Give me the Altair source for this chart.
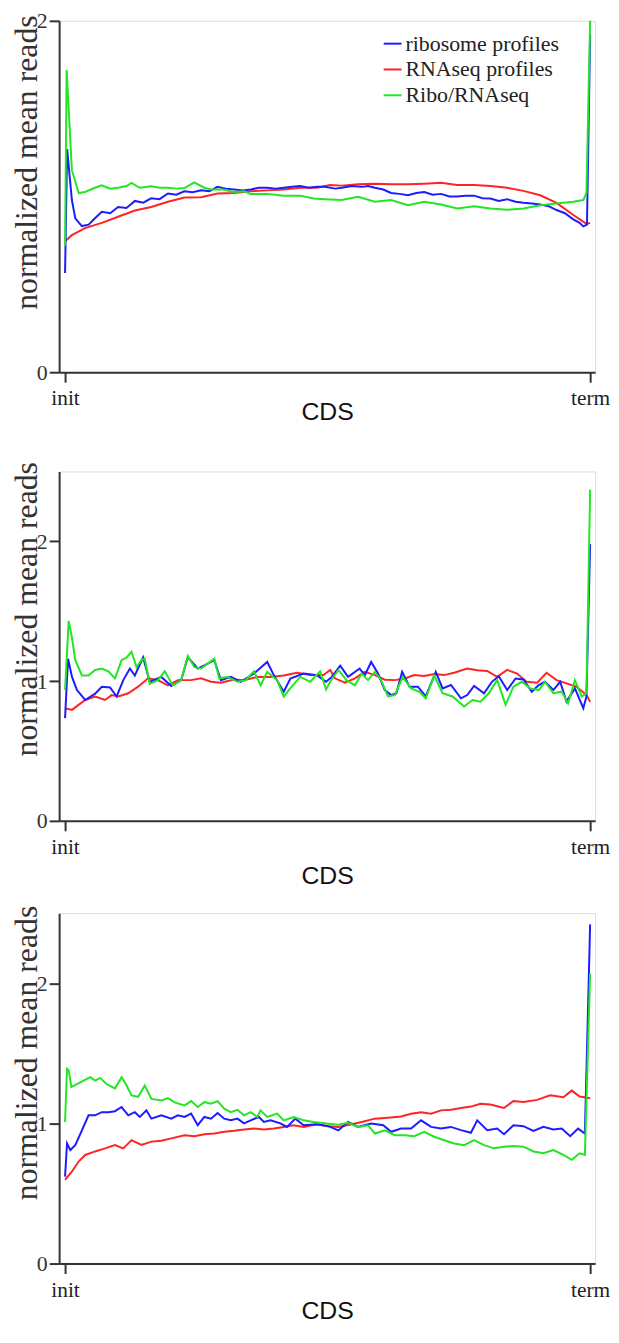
import altair as alt
import pandas as pd

SERIES = ["ribosome profiles", "RNAseq profiles", "Ribo/RNAseq"]
COLORS = ["#1c1cff", "#ff2424", "#22e622"]
X_TICKS = [0, 100]
X_TICK_LABELS = ["init", "term"]
Y_TICKS = [0, 1, 2]

# ---------------- panel 1 ----------------
p1_ribo_x = [0, 0.4, 1.3, 1.95, 3.2, 4.5, 5.7, 7.0, 8.6, 10.1, 11.7, 13.3, 14.9, 16.4, 18.0, 19.6, 21.2, 22.7, 24.3, 25.9,
             27.5, 29.0, 30.6, 32.2, 33.8, 35.4, 36.9, 38.5, 40.1, 41.7, 43.2, 44.8, 46.4, 48.0, 49.5, 51.4, 52.7, 54.6, 56.5, 57.7,
             59.0, 60.6, 62.1, 63.7, 65.3, 66.9, 68.4, 70.0, 71.6, 73.2, 74.7, 76.3, 77.9, 79.5, 81.0, 82.6, 84.2, 85.8, 87.3, 88.9,
             90.5, 92.1, 93.6, 95.2, 96.8, 98.0, 98.7, 99.4, 100]
p1_ribo_y = [0.565, 1.27, 0.98, 0.876, 0.832, 0.84, 0.876, 0.913, 0.905, 0.94, 0.935, 0.975, 0.965, 0.99, 0.985, 1.017, 1.01, 1.03, 1.025, 1.035,
             1.03, 1.055, 1.045, 1.04, 1.035, 1.04, 1.05, 1.05, 1.045, 1.05, 1.055, 1.06, 1.05, 1.055, 1.055, 1.045, 1.05, 1.06, 1.055, 1.06,
             1.05, 1.04, 1.02, 1.015, 1.007, 1.02, 1.025, 1.01, 1.015, 1.0, 1.0, 1.005, 1.005, 0.99, 0.989, 0.975, 0.985, 0.97, 0.964, 0.96,
             0.955, 0.945, 0.923, 0.905, 0.87, 0.85, 0.83, 0.84, 1.92]
p1_rna_x = [0, 1.3, 3.8, 7.0, 10.1, 13.3, 16.4, 19.6, 22.75, 25.9, 29.05, 32.2, 35.35, 38.5, 41.65, 44.8, 47.95, 50.5, 52.7, 55.8,
            59.0, 62.1, 65.3, 68.4, 71.6, 74.7, 77.9, 81.0, 84.2, 87.3, 90.5, 93.6, 96.8, 99.3, 100]
p1_rna_y = [0.745, 0.78, 0.82, 0.85, 0.885, 0.92, 0.94, 0.97, 0.994, 0.996, 1.017, 1.02, 1.03, 1.035, 1.04, 1.05, 1.05, 1.065, 1.062, 1.07,
            1.073, 1.07, 1.07, 1.073, 1.078, 1.065, 1.066, 1.06, 1.05, 1.032, 1.007, 0.964, 0.895, 0.844, 0.85]
p1_ratio_x = [0, 0.3, 1.3, 2.6, 3.8, 5.7, 7.0, 8.6, 10.1, 11.7, 12.66, 14.2, 16.4, 18.0, 19.6, 21.2, 22.75, 24.6, 26.5, 27.8,
              30.0, 32.2, 34.1, 35.35, 38.5, 41.65, 44.8, 47.3, 49.5, 52.7, 55.8, 59.0, 62.1, 65.3, 68.4, 71.6, 74.7, 77.9, 81.0, 84.2,
              87.3, 90.5, 93.6, 96.8, 98.7, 99.3, 100]
p1_ratio_y = [0.72, 1.72, 1.15, 1.02, 1.026, 1.05, 1.064, 1.045, 1.05, 1.06, 1.077, 1.05, 1.058, 1.05, 1.05, 1.045, 1.048, 1.08, 1.05, 1.04,
              1.04, 1.026, 1.03, 1.015, 1.015, 1.005, 1.005, 0.989, 0.985, 0.98, 0.998, 0.97, 0.98, 0.951, 0.97, 0.955, 0.932, 0.945, 0.932, 0.925,
              0.932, 0.95, 0.96, 0.97, 0.98, 1.02, 2.0]

# ---------------- panel 2 ----------------
p2_ribo_x = [0, 0.57, 1.32, 2.27, 3.84, 5.73, 6.99, 8.57, 9.83, 11.09, 12.35, 13.29, 14.87, 16.13, 18.34, 20.23, 22.12, 23.38, 25.27, 26.53,
             28.42, 29.68, 31.57, 33.46, 35.98, 38.5, 39.76, 41.65, 42.91, 45.43, 47.95, 49.7, 50.8, 52.4, 53.9, 56.1, 57.1, 58.3, 59.6, 60.9,
             62.1, 63.1, 64.2, 65.6, 67.2, 68.7, 70.6, 71.9, 73.5, 75.4, 76.6, 77.9, 79.8, 81.3, 82.6, 84.2, 85.8, 87.3, 88.9, 90.2,
             91.4, 93.0, 94.3, 95.5, 97.1, 98.7, 99.3, 100]
p2_ribo_y = [0.735, 1.16, 1.03, 0.936, 0.865, 0.91, 0.96, 0.955, 0.89, 1.007, 1.09, 1.04, 1.17, 0.995, 1.03, 0.965, 1.007, 1.17, 1.09, 1.113,
             1.15, 1.007, 1.03, 0.995, 1.054, 1.137, 1.043, 0.924, 1.019, 1.054, 1.043, 0.995, 1.03, 1.11, 1.03, 1.09, 1.043, 1.137, 1.054, 0.936,
             0.90, 0.913, 1.066, 0.96, 0.96, 0.89, 1.066, 0.948, 0.972, 0.877, 0.9, 0.965, 0.913, 0.995, 1.035, 0.936, 1.019, 1.012, 0.924, 0.972,
             0.995, 0.936, 0.995, 0.853, 0.948, 0.806, 0.89, 1.98]
p2_rna_x = [0, 1.32, 2.58, 3.84, 5.73, 7.62, 8.88, 10.14, 12.04, 13.92, 15.81, 17.7, 19.6, 21.49, 24.01, 25.9, 27.79, 29.68, 32.2, 34.09,
            36.61, 39.13, 41.65, 44.17, 46.69, 49.21, 50.5, 51.4, 53.3, 55.2, 57.1, 59.0, 60.9, 62.8, 64.7, 66.5, 68.4, 70.3, 72.2, 74.1,
            76.6, 78.5, 80.4, 82.3, 84.2, 86.1, 87.9, 89.9, 91.7, 93.6, 95.5, 97.4, 99.3, 100]
p2_rna_y = [0.806, 0.794, 0.83, 0.865, 0.89, 0.865, 0.90, 0.89, 0.913, 0.96, 1.02, 1.007, 0.97, 1.007, 1.007, 1.02, 0.995, 0.988, 1.012, 1.007,
            1.03, 1.03, 1.04, 1.06, 1.043, 1.043, 1.08, 1.02, 0.989, 1.019, 1.066, 1.043, 1.01, 1.007, 1.019, 1.043, 1.036, 1.05, 1.043, 1.06,
            1.09, 1.078, 1.073, 1.031, 1.08, 1.054, 0.995, 0.988, 1.06, 1.007, 0.984, 0.96, 0.90, 0.853]
p2_ratio_x = [0, 0.69, 1.32, 1.95, 3.21, 4.47, 5.73, 6.99, 8.25, 9.51, 10.77, 11.72, 12.66, 13.61, 14.55, 15.18, 16.13, 17.7, 18.97, 20.54,
              22.12, 23.38, 24.64, 25.9, 27.16, 28.42, 29.36, 30.94, 32.83, 34.4, 35.98, 37.24, 38.5, 40.39, 41.65, 42.91, 44.8, 46.69, 48.58, 49.7,
              50.5, 52.05, 53.6, 55.2, 56.5, 57.7, 59.0, 60.2, 61.5, 62.8, 64.3, 65.9, 67.5, 68.7, 70.3, 71.9, 73.8, 76.0, 77.6, 79.1,
              80.7, 82.3, 83.9, 85.4, 87.0, 88.6, 90.2, 91.4, 93.0, 94.6, 95.8, 97.1, 98.4, 99.3, 100]
p2_ratio_y = [0.936, 1.43, 1.31, 1.15, 1.04, 1.04, 1.08, 1.09, 1.07, 1.02, 1.15, 1.17, 1.21, 1.10, 1.15, 1.16, 0.98, 1.007, 1.07, 0.97,
              1.007, 1.18, 1.10, 1.09, 1.125, 1.16, 1.02, 1.03, 0.995, 1.007, 1.07, 0.97, 1.066, 1.007, 0.89, 0.95, 1.03, 0.995, 1.07, 0.94,
              0.995, 1.08, 1.007, 0.97, 1.054, 1.007, 1.066, 1.007, 0.89, 0.90, 1.03, 0.948, 0.924, 0.877, 1.04, 0.913, 0.89, 0.818, 0.865, 0.853,
              0.913, 1.007, 0.83, 0.96, 0.995, 0.948, 0.936, 0.995, 0.913, 0.924, 0.84, 1.007, 0.89, 0.913, 2.37]

# ---------------- panel 3 ----------------
p3_ribo_x = [0, 0.38, 1.0, 1.95, 3.21, 4.47, 5.73, 6.99, 8.25, 9.51, 10.77, 12.04, 13.29, 14.24, 15.5, 16.44, 18.34, 20.23, 21.49, 22.75,
             24.01, 25.27, 26.53, 27.79, 29.05, 30.31, 31.57, 32.83, 34.09, 35.35, 36.92, 37.87, 39.13, 41.02, 42.28, 43.86, 45.43, 47.95, 50.16, 52.05,
             53.9, 55.8, 58.3, 60.6, 62.1, 64.0, 65.9, 67.8, 69.7, 71.6, 73.5, 75.4, 77.3, 78.5, 80.4, 82.3, 83.6, 85.4, 87.3, 89.2,
             91.1, 93.0, 94.6, 96.2, 97.7, 99.0, 100]
p3_ribo_y = [0.62, 0.857, 0.81, 0.845, 0.95, 1.058, 1.058, 1.08, 1.08, 1.087, 1.117, 1.058, 1.08, 1.046, 1.093, 1.034, 1.058, 1.034, 1.058, 1.046,
             1.07, 0.987, 1.046, 1.034, 1.074, 1.034, 1.022, 1.034, 1.0, 1.022, 1.046, 1.01, 1.022, 1.0, 0.975, 1.034, 0.987, 0.994, 0.98, 0.95,
             1.01, 0.975, 0.999, 0.987, 0.94, 0.963, 0.963, 1.022, 0.975, 0.963, 0.975, 0.952, 0.933, 1.022, 0.952, 0.963, 0.923, 0.987, 0.98, 0.947,
             0.975, 0.956, 0.963, 0.909, 0.963, 0.928, 2.42]
p3_rna_x = [0, 1.32, 2.58, 3.84, 5.73, 7.62, 9.51, 11.09, 12.66, 14.55, 16.44, 18.34, 20.23, 22.75, 24.64, 26.53, 28.42, 30.31, 32.2, 34.09,
            35.98, 37.87, 39.76, 41.65, 43.54, 45.43, 47.95, 50.16, 52.05, 54.6, 56.5, 59.0, 61.5, 64.0, 65.9, 67.8, 69.7, 71.6, 73.5, 75.4,
            77.3, 79.1, 81.0, 83.6, 85.4, 87.3, 89.9, 92.4, 94.9, 96.5, 98.0, 100]
p3_rna_y = [0.598, 0.657, 0.728, 0.775, 0.80, 0.822, 0.846, 0.822, 0.881, 0.846, 0.87, 0.877, 0.893, 0.916, 0.909, 0.923, 0.928, 0.94, 0.947, 0.956,
            0.963, 0.956, 0.963, 0.975, 0.987, 0.975, 0.994, 0.98, 0.975, 0.994, 1.01, 1.034, 1.041, 1.05, 1.069, 1.08, 1.069, 1.093, 1.098, 1.11,
            1.12, 1.14, 1.135, 1.11, 1.16, 1.152, 1.168, 1.2, 1.187, 1.234, 1.192, 1.18]
p3_ratio_x = [0, 0.38, 0.69, 1.2, 2.27, 3.53, 4.79, 5.73, 6.68, 7.94, 9.51, 10.77, 11.72, 12.66, 13.92, 15.18, 16.44, 18.34, 19.6, 20.86,
              22.75, 24.01, 25.27, 26.53, 27.79, 29.05, 30.31, 31.57, 32.83, 34.09, 35.35, 36.61, 37.24, 38.5, 40.39, 41.65, 43.54, 45.43, 47.32, 50.16,
              52.05, 53.9, 55.8, 57.7, 59.0, 60.9, 62.8, 64.7, 66.5, 68.4, 70.3, 72.2, 74.1, 76.0, 77.9, 79.8, 81.7, 83.6, 85.4, 87.3,
              89.2, 91.1, 93.0, 94.9, 96.5, 98.0, 99.0, 100]
p3_ratio_y = [1.01, 1.39, 1.38, 1.26, 1.28, 1.305, 1.33, 1.305, 1.325, 1.28, 1.25, 1.33, 1.27, 1.20, 1.19, 1.27, 1.175, 1.163, 1.18, 1.15,
              1.128, 1.159, 1.117, 1.152, 1.14, 1.159, 1.105, 1.08, 1.097, 1.058, 1.08, 1.046, 1.093, 1.046, 1.07, 1.022, 1.046, 1.022, 1.01, 0.998,
              0.99, 1.004, 0.975, 0.987, 0.928, 0.95, 0.916, 0.916, 0.909, 0.94, 0.905, 0.88, 0.857, 0.845, 0.88, 0.845, 0.822, 0.834, 0.838, 0.834,
              0.80, 0.787, 0.81, 0.775, 0.74, 0.787, 0.775, 2.07]

SERIF = "Liberation Serif"
SANS = "Liberation Sans"
AX = "#333333"


def frame(rna, ribo, ratio):
    parts = []
    # draw order: RNAseq, ribosome, ratio (green on top)
    for name, (xs, ys) in [(SERIES[1], rna), (SERIES[0], ribo), (SERIES[2], ratio)]:
        parts.append(pd.DataFrame({"pos": xs, "val": ys, "series": name}))
    return pd.concat(parts, ignore_index=True)


def panel(df, ymax, height, title_y, cds_y, show_legend):
    if show_legend:
        leg = alt.Legend(
            title=None, orient="none", legendX=325, legendY=12,
            symbolType="stroke", symbolSize=324, symbolStrokeWidth=2,
            labelFont=SERIF, labelFontSize=22, labelColor="#222222",
            labelOffset=2, rowPadding=4, padding=0, labelLimit=300,
        )
    else:
        leg = None
    label_expr = "datum.value == %d ? '%s' : '%s'" % (X_TICKS[0], X_TICK_LABELS[0], X_TICK_LABELS[1])
    return alt.Chart(df).mark_line(strokeWidth=2).encode(
        x=alt.X(
            "pos:Q",
            scale=alt.Scale(domain=[-1.13, 100.95], nice=False, zero=False),
            axis=alt.Axis(
                values=X_TICKS, labelExpr=label_expr, title="CDS", grid=False,
                labelFont=SERIF, labelFontSize=21.5, labelColor="#222222", labelPadding=6,
                tickSize=10, tickWidth=2, tickColor=AX, domainColor=AX, domainWidth=2,
                titleFont=SANS, titleFontSize=25, titleFontWeight="normal", titleColor="#111111",
                titleBaseline="alphabetic", titleY=cds_y,
            ),
        ),
        y=alt.Y(
            "val:Q",
            scale=alt.Scale(domain=[0, ymax], nice=False, zero=True),
            axis=alt.Axis(
                values=Y_TICKS, format="d", title="normalized mean reads", grid=False,
                labelFont=SERIF, labelFontSize=22, labelColor="#333333", labelPadding=2,
                tickSize=10, tickWidth=2, tickColor=AX, domainColor=AX, domainWidth=2,
                titleFont=SERIF, titleFontSize=32, titleFontWeight="normal", titleColor="#333333",
                titleAngle=270, titleAlign="right", titleBaseline="alphabetic",
                titleX=-23, titleY=title_y,
            ),
        ),
        color=alt.Color("series:N", scale=alt.Scale(domain=SERIES, range=COLORS), legend=leg),
    ).properties(width=540, height=height)


c1 = panel(frame((p1_rna_x, p1_rna_y), (p1_ribo_x, p1_ribo_y), (p1_ratio_x, p1_ratio_y)), 2, 354, -6, 48, True)
c2 = panel(frame((p2_rna_x, p2_rna_y), (p2_ribo_x, p2_ribo_y), (p2_ratio_x, p2_ratio_y)), 2.5, 352, -10, 63, False)
c3 = panel(frame((p3_rna_x, p3_rna_y), (p3_ribo_x, p3_ribo_y), (p3_ratio_x, p3_ratio_y)), 2.5, 353, -8, 55, False)

lower = alt.vconcat(c2, c3, spacing=93, bounds="flush")
chart = alt.vconcat(c1, lower, spacing=100, bounds="flush").resolve_scale(color="independent").properties(
    padding={"top": -4, "left": 1.5, "right": 0, "bottom": 0},
).configure_view(stroke=None).configure(background="white")

chart.save("out.html", embed_options={"renderer": "svg", "actions": False})
